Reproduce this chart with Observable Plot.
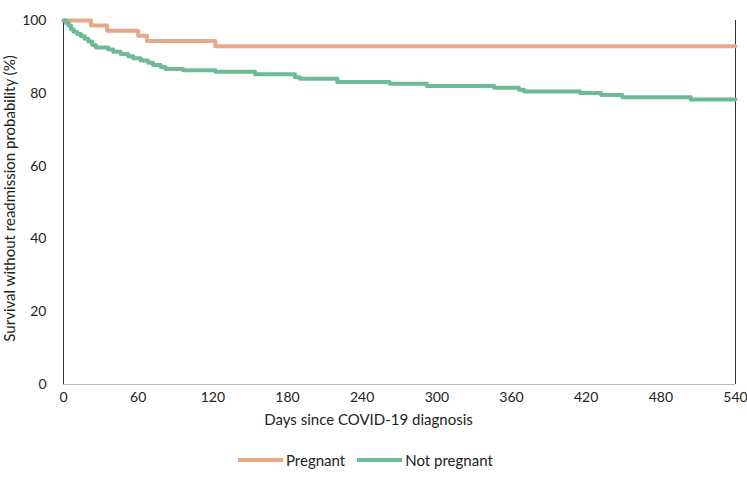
<!DOCTYPE html>
<html>
<head>
<meta charset="utf-8">
<script src="https://cdn.jsdelivr.net/npm/d3@7"></script>
<script src="https://cdn.jsdelivr.net/npm/@observablehq/plot@0.6"></script>
<style>
  html, body { margin: 0; padding: 0; background: #fff; }
  body { width: 747px; height: 486px; font-family: Lato, "Open Sans", sans-serif; color: #222; }
  #legend { display: flex; align-items: center; gap: 12px; font-size: 15px; margin-left: 238px; margin-top: 11px; }
  .item { display: flex; align-items: center; gap: 3px; }
  .swatch { width: 45px; height: 4px; display: inline-block; }
</style>
</head>
<body>
<div id="chart"></div>
<div id="legend"></div>
<script>
// Kaplan–Meier estimates: survival without readmission (%) by days since diagnosis
const pregnantDays = [0, 22, 35, 60, 67, 122, 540];
const pregnantSurv = [100, 98.6, 97.2, 95.8, 94.4, 92.9, 92.9];

const notPregnantDays = [0, 2, 4, 6, 8, 11, 14, 17, 20, 23, 26, 36, 40, 46, 52, 56, 62, 68, 72, 78, 82, 96, 122, 154, 186, 190, 220, 262, 292, 346, 366, 370, 415, 432, 449, 504, 540];
const notPregnantSurv = [100, 99.3, 98.6, 97.6, 96.9, 96.3, 95.7, 95.0, 94.2, 93.3, 92.6, 92.0, 91.4, 90.8, 90.2, 89.6, 89.0, 88.4, 87.8, 87.2, 86.7, 86.3, 85.9, 85.2, 84.4, 84.0, 83.1, 82.6, 82.0, 81.5, 81.0, 80.5, 80.1, 79.5, 78.9, 78.3, 78.3];

const groups = ["Pregnant", "Not pregnant"];
const colors = ["#E9A78A", "#6DBA97"];
const xTicks = [0, 60, 120, 180, 240, 300, 360, 420, 480, 540];
const yTicks = [0, 20, 40, 60, 80, 100];
const xTitle = "Days since COVID-19 diagnosis";
const yTitle = "Survival without readmission probability (%)";

const rows = [
  ...pregnantDays.map((d, i) => ({group: groups[0], day: d, surv: pregnantSurv[i]})),
  ...notPregnantDays.map((d, i) => ({group: groups[1], day: d, surv: notPregnantSurv[i]}))
];

const chart = Plot.plot({
  width: 747,
  height: 440,
  marginLeft: 63,
  marginRight: 12,
  marginTop: 20,
  marginBottom: 56,
  style: {fontFamily: "Lato, 'Open Sans', sans-serif", fontSize: "14px", color: "#222"},
  x: {domain: [0, 540]},
  y: {domain: [0, 100]},
  color: {domain: groups, range: colors},
  marks: [
    Plot.ruleY([0], {stroke: "#bbb", strokeWidth: 1}),
    Plot.ruleX([0, 540], {stroke: "#333", strokeWidth: 1}),
    Plot.line(rows, {x: "day", y: "surv", z: "group", stroke: "group", strokeWidth: 4, curve: "step-after"}),
    Plot.axisX({ticks: xTicks, tickSize: 0, tickPadding: 8, label: null, fontSize: 14}),
    Plot.axisY({ticks: yTicks, tickSize: 0, tickPadding: 17, label: null, fontSize: 14}),
    Plot.text([xTitle], {frameAnchor: "bottom", lineAnchor: "middle", textAnchor: "middle", dy: 36, dx: -31, fontSize: 15}),
    Plot.text([yTitle], {frameAnchor: "left", lineAnchor: "middle", textAnchor: "middle", dx: -53, dy: -4, rotate: -90, fontSize: 15})
  ]
});
document.getElementById("chart").append(chart);

const legend = document.getElementById("legend");
groups.forEach((g, i) => {
  const item = document.createElement("span");
  item.className = "item";
  const sw = document.createElement("span");
  sw.className = "swatch";
  sw.style.background = colors[i];
  const label = document.createElement("span");
  label.textContent = g;
  item.append(sw, label);
  legend.append(item);
});
</script>
</body>
</html>
